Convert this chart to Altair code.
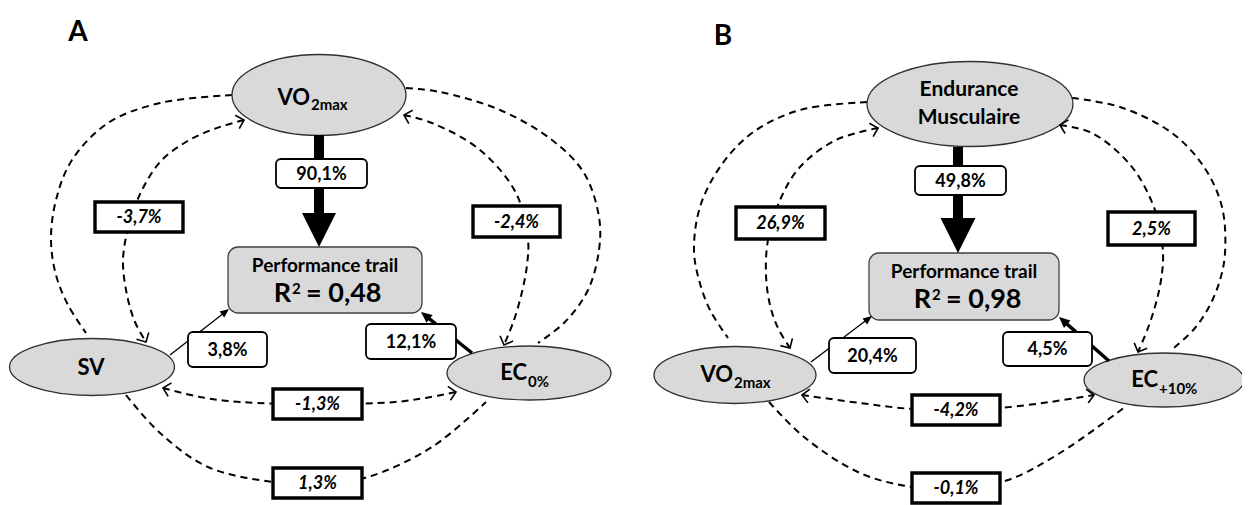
import math
import altair as alt
import pandas as pd

# ------------------------------------------------------------------ data
panel_letters = ["A", "B"]
outcome_label = ["Performance trail", "Performance trail"]
r2_values = ["0,48", "0,98"]

node_keys = ["A_top", "A_left", "A_right", "B_top", "B_left", "B_right"]
node_main = ["VO", "SV", "EC", "Endurance\nMusculaire", "VO", "EC"]
node_sub = ["2max", "", "0%", "", "2max", "+10%"]

path_keys = ["A_top", "A_left", "A_right", "B_top", "B_left", "B_right"]
path_values = ["90,1%", "3,8%", "12,1%", "49,8%", "20,4%", "4,5%"]

corr_keys = ["A_tl", "A_tr", "A_lr_in", "A_lr_out", "B_tl", "B_tr", "B_lr_in", "B_lr_out"]
corr_values = ["-3,7%", "-2,4%", "-1,3%", "1,3%", "26,9%", "2,5%", "-4,2%", "-0,1%"]

# ------------------------------------------------------------------ layout (page pixels)
LETTER_POS = {"A": (78, 33), "B": (723, 37)}

ELLIPSE = {  # cx, cy, w, h
    "A_top": (319, 95, 174, 81),
    "A_left": (92, 367, 165, 57),
    "A_right": (529, 373, 164, 54),
    "B_top": (970, 104, 206, 85),
    "B_left": (735, 375, 162, 57),
    "B_right": (1164, 380, 160, 54),
}
NODE_TEXT = {  # x (join or centre), baseline y, subscript baseline
    "A_top": (310, 105, 110),
    "A_left": (91, 368, None),
    "A_right": (527, 380, 387),
    "B_top": (969, 90, 28),
    "B_left": (733, 382, 388),
    "B_right": (1158, 387, 394),
}
PERF_BOX = {"A": (228, 422, 247, 313), "B": (869, 1059, 253, 320)}
PERF_TEXT = {"A": (325, 266, 291, 302), "B": (964, 272, 931, 308)}

PATH_ARROW = {  # start x, start y, tip x, tip y, shaft width, head length, head half-width ratio
    "A_top": (319, 135, 319, 247, 10, 34, 0.5),
    "A_left": (170, 355, 229, 309, 1.3, 9, 0.42),
    "A_right": (472, 353, 421, 312, 3.5, 11, 0.45),
    "B_top": (958, 147, 958, 253, 10, 35, 0.5),
    "B_left": (811, 362, 872, 316, 1.3, 9, 0.42),
    "B_right": (1109, 361, 1059, 317, 3.5, 11, 0.45),
}
PATH_BOX = {
    "A_top": (276, 367, 159, 188),
    "A_left": (188, 267, 332, 367),
    "A_right": (366, 456, 324, 359),
    "B_top": (915, 1006, 166, 195),
    "B_left": (829, 916, 338, 373),
    "B_right": (1003, 1092, 332, 366),
}
CORR_BOX = {
    "A_tl": (95, 183, 202, 232),
    "A_tr": (473, 560, 206, 237),
    "A_lr_in": (273, 362, 389, 419),
    "A_lr_out": (273, 362, 468, 498),
    "B_tl": (736, 825, 207, 239),
    "B_tr": (1108, 1195, 212, 245),
    "B_lr_in": (912, 1000, 395, 425),
    "B_lr_out": (912, 1000, 473, 503),
}
ARCS = {  # path through points, arrowheads at both ends?
    "A_outer_l": ([(232, 95), (160, 103), (108, 123), (72, 160), (56, 200), (51, 240), (56, 275), (68, 305), (86, 333)], False),
    "A_tl": ([(244, 120), (214, 129), (186, 142), (161, 161), (142, 190), (129, 225), (123, 260), (127, 295), (135, 322), (146, 342)], True),
    "A_outer_r": ([(406, 88), (440, 92), (500, 110), (552, 140), (584, 173), (599, 217), (599, 250), (588, 290), (565, 322), (538, 343)], False),
    "A_tr": ([(404, 115), (432, 123), (480, 150), (516, 193), (528, 240), (527, 265), (522, 292), (514, 320), (504, 345)], True),
    "A_lr_in": ([(163, 388), (200, 397), (240, 402), (317, 404), (395, 402), (425, 398), (456, 392)], True),
    "A_lr_out": ([(126, 395), (160, 433), (208, 467), (272, 482), (318, 485), (368, 477), (432, 447), (486, 402)], False),
    "B_outer_l": ([(867, 102), (800, 110), (752, 133), (720, 167), (700, 207), (694, 250), (699, 280), (710, 310), (728, 338)], False),
    "B_tl": ([(878, 128), (836, 140), (800, 167), (780, 200), (768, 240), (766, 275), (770, 305), (778, 328), (790, 348)], True),
    "B_outer_r": ([(1072, 98), (1120, 107), (1172, 133), (1204, 167), (1222, 207), (1225, 253), (1220, 280), (1210, 305), (1195, 328), (1174, 348)], False),
    "B_tr": ([(1060, 125), (1092, 133), (1132, 167), (1156, 213), (1163, 253), (1161, 280), (1156, 303), (1148, 328), (1138, 352)], True),
    "B_lr_in": ([(802, 395), (860, 403), (912, 409), (956, 410), (1000, 408), (1050, 402), (1094, 395)], True),
    "B_lr_out": ([(769, 402), (804, 437), (860, 473), (912, 487), (956, 489), (1008, 480), (1060, 453), (1125, 407)], False),
}

FONT = "Lato"
GREY = "#d9d9d9"
CHEVRON = "M-1,-1 L0,0 L-1,1"


def ellipse_path(a):
    k = 0.5523
    return (f"M1,0 C1,{k*a:.4f} {k:.4f},{a:.4f} 0,{a:.4f} "
            f"C{-k:.4f},{a:.4f} -1,{k*a:.4f} -1,0 "
            f"C-1,{-k*a:.4f} {-k:.4f},{-a:.4f} 0,{-a:.4f} "
            f"C{k:.4f},{-a:.4f} 1,{-k*a:.4f} 1,0 Z")


def head_path(r):
    return f"M0,0 L-1,{-r} L-1,{r} Z"


# ------------------------------------------------------------------ tables
arc_rows, chev_rows = [], []
for key, (pts, arrows) in ARCS.items():
    for i, (x, y) in enumerate(pts):
        arc_rows.append(dict(arc=key, i=i, x=x, y=y))
    if arrows:
        for tip, prev in ((pts[0], pts[1]), (pts[-1], pts[-2])):
            ang = math.degrees(math.atan2(tip[1] - prev[1], tip[0] - prev[0])) % 360
            chev_rows.append(dict(x=tip[0], y=tip[1], ang=ang, shape=CHEVRON, size=196))
arc_df = pd.DataFrame(arc_rows)
chev_df = pd.DataFrame(chev_rows)

ell_df = pd.DataFrame([
    dict(x=cx, y=cy, shape=ellipse_path(h / w), size=w * w)
    for k, (cx, cy, w, h) in ELLIPSE.items()
])

perf_df = pd.DataFrame([dict(x=v[0], x2=v[1], y=v[2], y2=v[3]) for v in PERF_BOX.values()])

rule_rows, head_rows = [], []
for key in path_keys:
    sx, sy, tx, ty, w, L, r = PATH_ARROW[key]
    d = math.hypot(tx - sx, ty - sy)
    ux, uy = (tx - sx) / d, (ty - sy) / d
    rule_rows.append(dict(x=sx, y=sy, x2=tx - ux * (L - 1), y2=ty - uy * (L - 1), w=w))
    ang = math.degrees(math.atan2(uy, ux)) % 360
    head_rows.append(dict(x=tx, y=ty, ang=ang, shape=head_path(r), size=(2 * L) ** 2))
rule_df = pd.DataFrame(rule_rows)
head_df = pd.DataFrame(head_rows)

pbox_df = pd.DataFrame([dict(x=PATH_BOX[k][0], x2=PATH_BOX[k][1], y=PATH_BOX[k][2], y2=PATH_BOX[k][3]) for k in path_keys])
cbox_df = pd.DataFrame([dict(x=CORR_BOX[k][0], x2=CORR_BOX[k][1], y=CORR_BOX[k][2], y2=CORR_BOX[k][3]) for k in corr_keys])

center_rows, italic_rows, right_rows, left_rows = [], [], [], []
for p in panel_letters:
    lx, ly = LETTER_POS[p]
    center_rows.append(dict(x=lx, y=ly, t=p, s=28))
for key, main, sub in zip(node_keys, node_main, node_sub):
    x, y, extra = NODE_TEXT[key]
    if sub:
        right_rows.append(dict(x=x, y=y, t=main, s=22))
        left_rows.append(dict(x=x + 1, y=extra, t=sub, s=15))
    elif "\n" in main:
        for j, line in enumerate(main.split("\n")):
            center_rows.append(dict(x=x, y=y + j * extra, t=line, s=21))
    else:
        center_rows.append(dict(x=x, y=y, t=main, s=22))
for p, lab, r2 in zip(panel_letters, outcome_label, r2_values):
    cx, ty, rx, ry = PERF_TEXT[p]
    center_rows.append(dict(x=cx, y=ty, t=lab, s=19))
    right_rows.append(dict(x=rx, y=ry, t="R", s=27))
    left_rows.append(dict(x=rx + 1, y=ry - 8, t="2", s=15))
    left_rows.append(dict(x=rx + 15, y=ry, t="= " + r2, s=27))
for k, v in zip(path_keys, path_values):
    x1, x2, y1, y2 = PATH_BOX[k]
    center_rows.append(dict(x=(x1 + x2) / 2, y=(y1 + y2) / 2 + 1, t=v, s=18))
for k, v in zip(corr_keys, corr_values):
    x1, x2, y1, y2 = CORR_BOX[k]
    italic_rows.append(dict(x=(x1 + x2) / 2, y=(y1 + y2) / 2 + 1, t=v, s=18))

center_df = pd.DataFrame(center_rows)
italic_df = pd.DataFrame(italic_rows)
right_df = pd.DataFrame(right_rows)
left_df = pd.DataFrame(left_rows)

# ------------------------------------------------------------------ chart
X = alt.X("x:Q", scale=alt.Scale(domain=[8, 1242], nice=False, zero=False), axis=None)
Y = alt.Y("y:Q", scale=alt.Scale(domain=[8, 505], reverse=True, nice=False, zero=False), axis=None)
X2 = alt.X2("x2:Q")
Y2 = alt.Y2("y2:Q")
SHAPE = alt.Shape("shape:N", scale=None, legend=None)
SIZE = alt.Size("size:Q", scale=None, legend=None)
ANGLE = alt.Angle("ang:Q", scale=None)
TSIZE = alt.Size("s:Q", scale=None, legend=None)

arcs = alt.Chart(arc_df).mark_line(
    interpolate="catmull-rom", strokeDash=[7, 5], strokeWidth=2, color="black"
).encode(x=X, y=Y, detail="arc:N", order="i:Q")

ellipses = alt.Chart(ell_df).mark_point(
    filled=True, fill=GREY, stroke="#303030", strokeWidth=1.3, opacity=1
).encode(x=X, y=Y, shape=SHAPE, size=SIZE)

perf = alt.Chart(perf_df).mark_rect(
    fill=GREY, stroke="#404040", strokeWidth=1.3, cornerRadius=10
).encode(x=X, x2=X2, y=Y, y2=Y2)

rules = alt.Chart(rule_df).mark_rule(color="black").encode(
    x=X, y=Y, x2=X2, y2=Y2, strokeWidth=alt.StrokeWidth("w:Q", scale=None, legend=None)
)

heads = alt.Chart(head_df).mark_point(
    filled=True, fill="black", strokeWidth=0, opacity=1
).encode(x=X, y=Y, shape=SHAPE, size=SIZE, angle=ANGLE)

pboxes = alt.Chart(pbox_df).mark_rect(
    fill="white", stroke="black", strokeWidth=1.8, cornerRadius=5
).encode(x=X, x2=X2, y=Y, y2=Y2)

cboxes = alt.Chart(cbox_df).mark_rect(
    fill="white", stroke="black", strokeWidth=3.4
).encode(x=X, x2=X2, y=Y, y2=Y2)

chevs = alt.Chart(chev_df).mark_point(
    filled=False, color="black", strokeWidth=1.6, opacity=1
).encode(x=X, y=Y, shape=SHAPE, size=SIZE, angle=ANGLE)

t_center = alt.Chart(center_df).mark_text(
    font=FONT, fontWeight="bold", align="center", baseline="middle", color="black"
).encode(x=X, y=Y, text="t:N", size=TSIZE)

t_italic = alt.Chart(italic_df).mark_text(
    font=FONT, fontWeight="bold", fontStyle="italic", align="center", baseline="middle", color="black"
).encode(x=X, y=Y, text="t:N", size=TSIZE)

t_right = alt.Chart(right_df).mark_text(
    font=FONT, fontWeight="bold", align="right", baseline="alphabetic", color="black"
).encode(x=X, y=Y, text="t:N", size=TSIZE)

t_left = alt.Chart(left_df).mark_text(
    font=FONT, fontWeight="bold", align="left", baseline="alphabetic", color="black"
).encode(x=X, y=Y, text="t:N", size=TSIZE)

chart = alt.layer(
    arcs, ellipses, perf, rules, heads, pboxes, cboxes, chevs,
    t_center, t_italic, t_right, t_left
).properties(
    width=1234, height=497, padding=0, autosize=alt.AutoSizeParams(type="none")
).configure_view(strokeWidth=0)

chart.save("out.html", embed_options={"renderer": "svg", "actions": False})
